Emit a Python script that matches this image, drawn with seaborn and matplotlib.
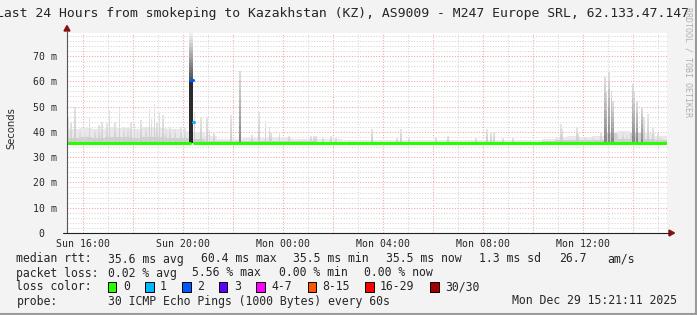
import matplotlib
matplotlib.use("Agg")
import matplotlib.pyplot as plt
import numpy as np
import pandas as pd
import seaborn as sns
from matplotlib.patches import Polygon, Rectangle
from matplotlib.lines import Line2D

# ---------------------------------------------------------------- data
TITLE = "Last 24 Hours from smokeping to Kazakhstan (KZ), AS9009 - M247 Europe SRL, 62.133.47.147"
FIRST_FULL_HOUR = (60 - 21.2) / 60.0      # graph starts Sun 15:21:11

x_tick_labels = ["Sun 16:00", "", "Sun 20:00", "", "Mon 00:00", "",
                 "Mon 04:00", "", "Mon 08:00", "", "Mon 12:00", ""]
y_ticks_ms = [0, 10, 20, 30, 40, 50, 60, 70]
y_tick_labels = ["0  ", "10 m", "20 m", "30 m", "40 m", "50 m", "60 m", "70 m"]

# half-hour smoke envelope (ms): light band top and dense core top
band_top = [41.0, 41.5, 41.0, 42.0, 41.5, 41.0, 42.0, 41.5, 41.0, 40.5, 40.0, 38.5,
            37.0, 37.0, 37.5, 37.5, 38.0, 37.5, 37.0, 37.0, 37.0, 37.0, 36.6, 36.6,
            36.6, 36.6, 36.6, 36.6, 36.6, 36.6, 36.6, 36.6, 36.6, 36.6, 36.8, 36.6,
            36.6, 36.6, 37.2, 38.0, 38.5, 38.0, 38.5, 40.0, 40.5, 40.0, 39.5, 38.5]
core_top = [37.5, 37.8, 37.5, 37.8, 37.8, 37.5, 37.8, 37.8, 37.5, 37.5, 37.0, 36.5,
            36.2, 36.2, 36.3, 36.3, 36.4, 36.3, 36.2, 36.2, 36.1, 36.1, 36.0, 36.0,
            36.0, 36.0, 36.0, 36.0, 36.0, 36.0, 36.0, 36.0, 36.0, 36.0, 36.0, 36.0,
            36.0, 36.0, 36.3, 36.6, 36.8, 36.6, 36.8, 39.5, 37.2, 39.5, 37.2, 36.8]

# individual smoke spikes: time (h since start), max ping (ms), dense flag
spike_t = [0.05, 0.15, 0.32, 0.52, 0.72, 0.90, 1.12, 1.28, 1.40, 1.59, 1.69, 1.92,
           2.09, 2.28, 2.43, 2.56, 2.69, 2.82, 2.96, 3.16, 3.29, 3.38, 3.49, 3.60,
           3.69, 3.83, 3.96, 4.12, 4.32, 4.56, 4.72, 5.10, 5.36, 5.60, 5.69, 5.88,
           6.55, 6.92, 7.40, 7.67, 7.93, 8.09, 8.16, 8.49, 8.88, 9.76, 9.88, 9.96,
           10.23, 10.56, 10.76, 12.20, 13.20, 13.36, 13.68, 14.76, 15.23, 16.36, 16.79, 16.96,
           17.08, 17.43, 17.83, 19.76, 19.82, 20.40, 20.46, 20.71, 21.03, 21.36, 21.52, 21.58,
           21.67, 21.78, 21.84, 22.04, 22.24, 22.40, 22.63, 22.68, 22.80, 22.99, 23.08, 23.24,
           23.44, 23.64, 23.76]
spike_top = [45.3, 44.0, 49.9, 40.7, 39.5, 45.3, 41.0, 42.7, 44.0, 43.4, 48.6, 44.0,
             49.3, 42.0, 42.0, 44.0, 43.4, 41.0, 44.7, 42.0, 48.9, 45.0, 51.0, 44.0,
             48.0, 46.6, 40.7, 42.0, 41.0, 42.0, 41.5, 48.0, 46.0, 46.0, 40.7, 40.0,
             46.6, 64.0, 38.6, 48.0, 44.4, 42.0, 40.0, 40.0, 38.5, 38.5, 38.5, 38.5,
             37.5, 38.5, 37.5, 41.0, 37.5, 41.0, 37.5, 38.0, 38.5, 37.5, 41.0, 40.0,
             40.0, 37.5, 37.5, 43.0, 41.0, 41.8, 39.5, 38.0, 38.0, 40.0, 61.8, 56.0,
             63.8, 56.0, 52.0, 39.0, 40.0, 39.0, 59.0, 56.0, 52.0, 50.0, 46.0, 47.0,
             42.0, 39.5, 38.0]
spike_dense = [0] * 37 + [1] + [0] * 32 + [1, 1, 1, 1, 1] + [0] * 3 + [1, 1, 1, 1] + [0] * 5

# the large 20:15 burst
burst_t = 4.96
burst_core_ms = 60.4
burst_top_ms = 79.0

# median rtt (step series) and its loss class per step
median_t = [0.0, 4.90, 5.02, 5.08, 24.0]
median_v = [35.5, 60.4, 44.0, 35.5, 35.5]
median_loss = [0, 2, 1, 0, 0]

loss_labels = ["0", "1", "2", "3", "4-7", "8-15", "16-29", "30/30"]
loss_colors = ["#26ff00", "#00b8ff", "#0059ff", "#5e00ff", "#ff00ff", "#ff5500", "#ff0000", "#a00000"]

row_rtt = [("median rtt:", 16.4), ("35.6 ms avg", 107.6), ("60.4 ms max", 200.9),
           ("35.5 ms min", 293.3), ("35.5 ms now", 385.8), ("1.3 ms sd", 479.0),
           ("26.7", 559.0), ("am/s", 607.6)]
row_loss = [("packet loss:", 16.4), ("0.02 % avg", 107.6), ("5.56 % max", 192.0),
            ("0.00 % min", 279.0), ("0.00 % now", 364.4)]
row_probe = [("probe:", 16.4), ("30 ICMP Echo Pings (1000 Bytes) every 60s", 107.6),
             ("Mon Dec 29 15:21:11 2025", 512.4)]

# ---------------------------------------------------------------- layout
W, H = 697, 315
BG = "#f3f3f3"
MONO = "DejaVu Sans Mono"

sns.set_style("white")
plt.rcParams["font.family"] = ["DejaVu Sans"]

fig = plt.figure(figsize=(W / 100, H / 100), dpi=100, facecolor=BG)


def fx(x):
    return x / W


def fy(y):
    return 1 - y / H


ax = fig.add_axes([fx(67), fy(233), 600 / W, (233 - 33) / H])
ax.set_facecolor("white")
ax.set_xlim(0, 24)
ax.set_ylim(0, 200 / 2.53)

# grid
major_x = [FIRST_FULL_HOUR + 2 * k for k in range(12)]
minor_x = [FIRST_FULL_HOUR + k for k in range(24)]
ax.set_xticks(major_x)
ax.set_xticklabels(x_tick_labels, fontfamily=MONO, fontsize=7.1)
ax.set_xticks(minor_x, minor=True)
ax.set_yticks(y_ticks_ms)
ax.set_yticklabels(y_tick_labels, fontfamily=MONO, fontsize=7.1)
ax.set_yticks(np.arange(0, 80, 2), minor=True)
ax.tick_params(which="both", length=0)
ax.tick_params(axis="y", pad=7)
ax.tick_params(axis="x", pad=4)
ax.grid(which="minor", color="#d6d6d6", linewidth=0.75, linestyle=(0, (1, 1.6)))
ax.grid(which="major", color="#f2a4a4", linewidth=0.75, linestyle=(0, (1, 1.6)))
ax.set_axisbelow(True)
for s in ax.spines.values():
    s.set_visible(False)

# smoke envelope
edges = np.arange(49) * 0.5
ax.fill_between(edges, 35.5, band_top + [band_top[-1]], step="post",
                color="#e8e8e8", linewidth=0, zorder=2)
ax.fill_between(edges, 35.5, core_top + [core_top[-1]], step="post",
                color="#d0d0d0", linewidth=0, zorder=2.1)


def gradient_bar(t, lo, hi, c_lo, c_hi, width, n=8, z=2.5):
    c0 = np.array(matplotlib.colors.to_rgb(c_lo))
    c1 = np.array(matplotlib.colors.to_rgb(c_hi))
    levels = np.linspace(lo, hi, n + 1)
    for i in range(n):
        c = c0 + (c1 - c0) * (i / max(n - 1, 1))
        ax.fill_between([t - width / 2, t + width / 2], levels[i], levels[i + 1],
                        color=c, linewidth=0, zorder=z)


for t, top, dense in zip(spike_t, spike_top, spike_dense):
    if dense:
        gradient_bar(t, 35.5, top, "#8a8a8a", "#dadada", 0.07)
    else:
        gradient_bar(t, 35.5, top, "#cacaca", "#e4e4e4", 0.06)

# burst
gradient_bar(burst_t, burst_core_ms, burst_top_ms, "#555555", "#eeeeee", 0.15, n=14)
ax.fill_between([burst_t - 0.065, burst_t + 0.065], 35.5, burst_core_ms,
                color="#2b2b2b", linewidth=0, zorder=2.6)

# median line, coloured by loss
for i in range(len(median_t) - 1):
    seg = pd.DataFrame({"t": [median_t[i], median_t[i + 1]],
                        "rtt": [median_v[i], median_v[i]]})
    sns.lineplot(data=seg, x="t", y="rtt", ax=ax, color=loss_colors[median_loss[i]],
                 linewidth=2.2, estimator=None, sort=False, zorder=4)
ax.set_xlabel("")
ax.set_ylabel("")

# ---------------------------------------------------------------- decorations
fig.add_artist(Line2D([fx(67), fx(67)], [fy(31), fy(233)], color="#555555", lw=0.8))
fig.add_artist(Line2D([fx(63), fx(670)], [fy(233), fy(233)], color="#222222", lw=0.8))
fig.add_artist(Polygon([[fx(64), fy(31)], [fx(70), fy(31)], [fx(67), fy(25.5)]],
                       closed=True, color="#8b1010"))
fig.add_artist(Polygon([[fx(669), fy(230)], [fx(669), fy(236)], [fx(674.5), fy(233)]],
                       closed=True, color="#8b1010"))
# frame (3d effect)
fig.add_artist(Line2D([fx(695.5), fx(695.5)], [0, 1], color="#9a9a9a", lw=1.5))
fig.add_artist(Line2D([0, 1], [fy(313.5), fy(313.5)], color="#9a9a9a", lw=1.5))

fig.text(fx(342), fy(13), TITLE, ha="center", va="center", fontfamily=MONO, fontsize=9.45)
fig.text(fx(11), fy(128), "Seconds", rotation=90, ha="center", va="center",
         fontfamily="DejaVu Sans", fontsize=7.2)
fig.text(fx(688), fy(62), "RRDTOOL / TOBI OETIKER", rotation=270, ha="center", va="center",
         fontfamily=MONO, fontsize=6.0, color="#b0b0b0")

for txt, x in row_rtt:
    fig.text(fx(x), fy(259), txt, ha="left", va="center", fontfamily=MONO, fontsize=8.3)
for txt, x in row_loss:
    fig.text(fx(x), fy(273), txt, ha="left", va="center", fontfamily=MONO, fontsize=8.3)
fig.text(fx(16.4), fy(287), "loss color:", ha="left", va="center", fontfamily=MONO, fontsize=8.3)
box_x = [108, 145.3, 182.2, 219, 256.4, 307.6, 365.3, 430.2]
for lab, col, bx in zip(loss_labels, loss_colors, box_x):
    fig.add_artist(Rectangle((fx(bx), fy(292)), 8.4 / W, 10.5 / H, facecolor=col,
                             edgecolor="black", linewidth=0.7))
    fig.text(fx(bx + 14.8), fy(287), lab, ha="left", va="center", fontfamily=MONO, fontsize=8.3)
for txt, x in row_probe:
    fig.text(fx(x), fy(301), txt, ha="left", va="center", fontfamily=MONO, fontsize=8.3)

fig.savefig("out.png", dpi=100, facecolor=BG)
